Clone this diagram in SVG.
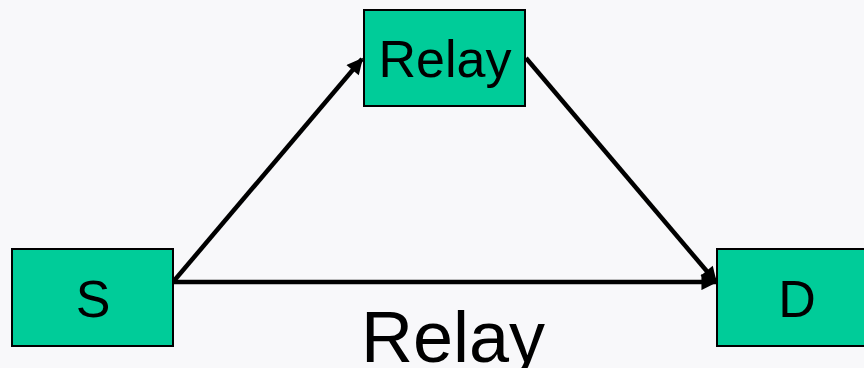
<svg xmlns="http://www.w3.org/2000/svg" width="864" height="368" viewBox="0 0 864 368">
<style>
.box{fill:#00CC99;stroke:#000;stroke-width:2}
.t{font-family:"Liberation Sans",Arial,sans-serif;fill:#000;text-anchor:middle}
.c{stroke:#000;stroke-width:4.5;fill:none;marker-end:url(#ah)}
</style>
<defs>
<marker id="ah" viewBox="0 0 10 10" refX="9" refY="5" markerWidth="4.2" markerHeight="3.6" markerUnits="strokeWidth" orient="auto">
<path d="M0,0 L10,5 L0,10 z" fill="#000"/>
</marker>
</defs>
<rect width="864" height="368" fill="#F8F8FA"/>
<g id="connectors">
<line class="c" x1="173" y1="282" x2="362" y2="59"/>
<line class="c" x1="173" y1="282" x2="716" y2="282"/>
<line class="c" x1="526" y1="58" x2="716" y2="282"/>
</g>
<g id="relay">
<rect class="box" x="364" y="10" width="161" height="96"/>
<text class="t" x="445" y="77" font-size="52">Relay</text>
</g>
<g id="s">
<rect class="box" x="12" y="249" width="161" height="97"/>
<text class="t" x="93" y="317" font-size="52">S</text>
</g>
<g id="d">
<rect class="box" x="717" y="249" width="161" height="97"/>
<text class="t" x="797" y="317" font-size="52">D</text>
</g>
<g id="label">
<text class="t" x="453" y="362" font-size="72">Relay</text>
</g>
</svg>
